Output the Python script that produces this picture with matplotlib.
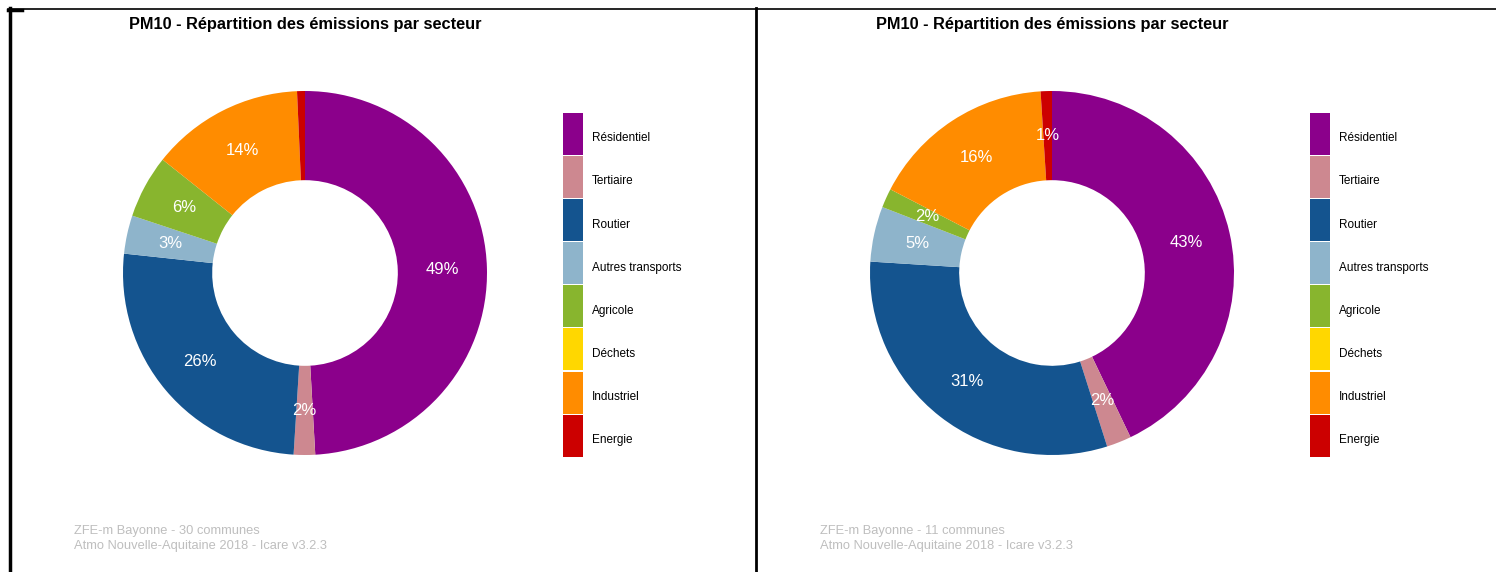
import matplotlib
matplotlib.use("Agg")
import matplotlib.pyplot as plt
from matplotlib.lines import Line2D

plt.rcParams["font.family"] = ["Liberation Sans", "DejaVu Sans"]

W, H = 1496, 572

sectors = ["Résidentiel", "Tertiaire", "Routier", "Autres transports",
           "Agricole", "Déchets", "Industriel", "Energie"]
colors = ["#8B008B", "#CD8890", "#14548F", "#8EB4CB",
          "#88B52E", "#FFD700", "#FF8C00", "#CC0000"]

# parts en %
share_30 = [49.1, 1.9, 25.7, 3.4, 5.6, 0.0, 13.6, 0.7]
share_11 = [42.9, 2.2, 30.9, 4.9, 1.7, 0.0, 16.4, 1.0]

title = "PM10 - Répartition des émissions par secteur"
footers = ["ZFE-m Bayonne - 30 communes\nAtmo Nouvelle-Aquitaine 2018 - Icare v3.2.3",
           "ZFE-m Bayonne - 11 communes\nAtmo Nouvelle-Aquitaine 2018 - Icare v3.2.3"]

fig = plt.figure(figsize=(W / 100, H / 100), dpi=100)


def px_axes(x0, y_top, w, h):
    return fig.add_axes([x0 / W, 1 - (y_top + h) / H, w / W, h / H])


def autolabel(p):
    return f"{p:.0f}%" if p >= 1 else ""


panels = [(share_30, 305, 563, 74, footers[0]),
          (share_11, 1052, 1310, 820, footers[1])]

R = 182
for values, cx, leg_x, foot_x, foot in panels:
    ax = px_axes(cx - R, 273 - R, 2 * R, 2 * R)
    wedges, _, autotexts = ax.pie(
        values, colors=colors, startangle=90, counterclock=False,
        autopct=autolabel, pctdistance=0.755,
        wedgeprops=dict(width=0.49, linewidth=0),
        textprops=dict(color="white", fontsize=12))
    ax.set_xlim(-1, 1)
    ax.set_ylim(-1, 1)
    ax.axis("off")

    fig.text(cx / W, 1 - 24 / H, title, ha="center", va="center",
             fontsize=11.8, fontweight="bold")

    leg = fig.legend(wedges, sectors, loc="upper left",
                     bbox_to_anchor=(leg_x / W, 1 - 113 / H),
                     frameon=False, fontsize=8.5, handlelength=1.7,
                     handleheight=5.1, labelspacing=0.09, handletextpad=0.75,
                     borderpad=0, borderaxespad=0)
    for t in leg.get_texts():
        t.set_va("center_baseline")

    fig.text(foot_x / W, 1 - 525 / H, foot, ha="left", va="top",
             fontsize=9.3, color="#BEBEBE", linespacing=1.35)

# cadres
fig.add_artist(Line2D([8 / W, 1], [1 - 8.5 / H] * 2, color="black", lw=1.2))
fig.add_artist(Line2D([8 / W, 22 / W], [1 - 9.5 / H] * 2, color="black", lw=2.5))
fig.add_artist(Line2D([9.5 / W] * 2, [0, 1 - 8 / H], color="black", lw=2.5))
fig.add_artist(Line2D([755.5 / W] * 2, [0, 1 - 8 / H], color="black", lw=2))

fig.savefig("out.png", dpi=100)
